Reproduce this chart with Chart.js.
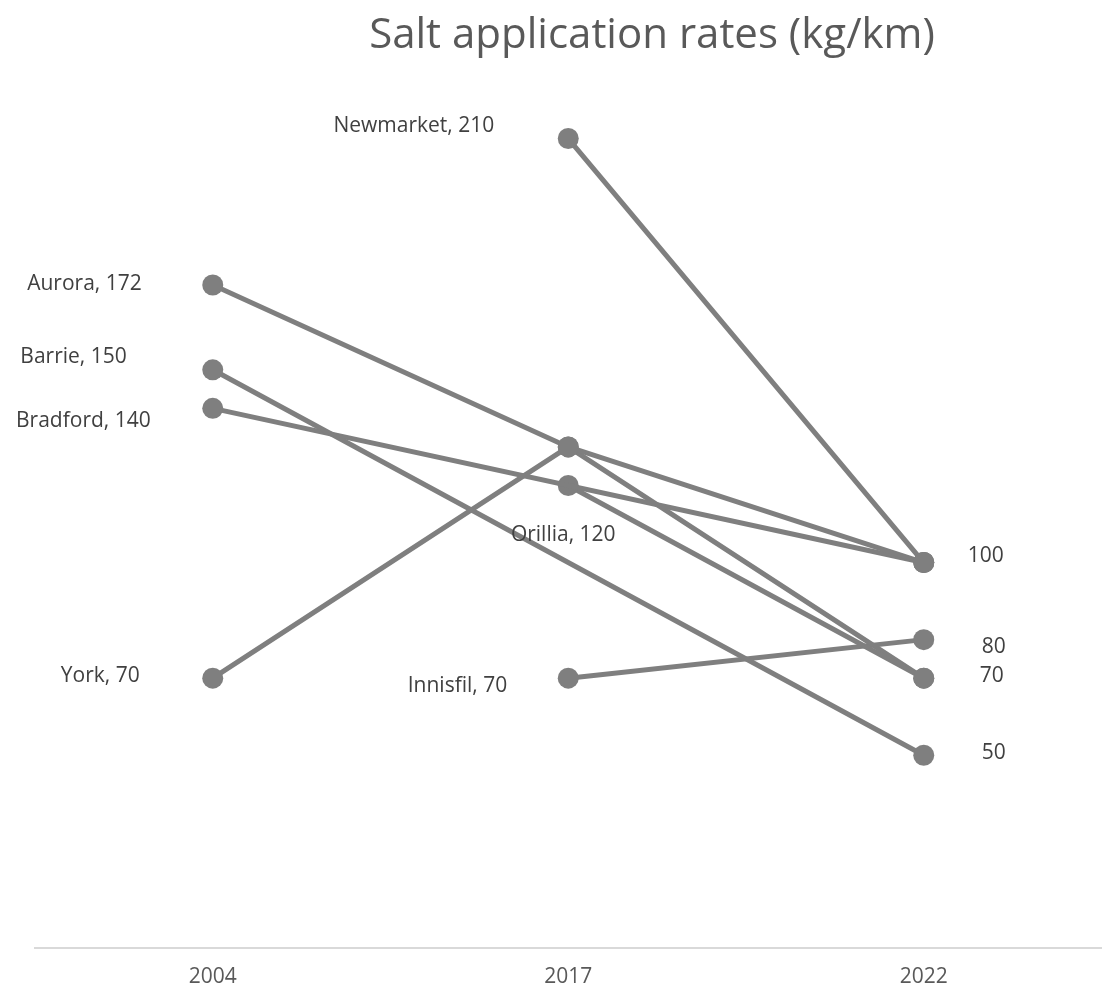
<!DOCTYPE html>
<html>
<head>
<meta charset="utf-8">
<script src="https://cdn.jsdelivr.net/npm/chart.js@4/dist/chart.umd.min.js"></script>
<style>
  html, body { margin: 0; padding: 0; background: #fff; }
  canvas { display: block; }
</style>
</head>
<body>
<canvas id="slopeChart" width="1112" height="987"></canvas>
<script>
const years = ["2004", "2017", "2022"];
const chartTitle = "Salt application rates (kg/km)";

const newmarket = [null, 210, 100];
const aurora = [172, 130, 100];
const barrie = [150, null, 50];
const bradford = [140, null, 100];
const orillia = [null, 120, 70];
const york = [70, 130, 70];
const innisfil = [null, 70, 80];

const seriesNames = ["Newmarket", "Aurora", "Barrie", "Bradford", "Orillia", "York", "Innisfil"];
const seriesValues = [newmarket, aurora, barrie, bradford, orillia, york, innisfil];

const COLORS = { line: "#7f7f7f", label: "#404040", axisText: "#595959", axisLine: "#d9d9d9", title: "#595959" };
Chart.defaults.font.family = '"Open Sans", sans-serif';

// where each data label sits relative to its point (series index, point index, offsets)
const labelSpots = [
  { s: 1, i: 0, dx: -71, dy: -1, align: "right" },
  { s: 2, i: 0, dx: -86, dy: -13, align: "right" },
  { s: 3, i: 0, dx: -62, dy: 13, align: "right" },
  { s: 5, i: 0, dx: -73, dy: -2, align: "right" },
  { s: 0, i: 1, dx: -74, dy: -13, align: "right" },
  { s: 4, i: 1, dx: -5, dy: 50, align: "center" },
  { s: 6, i: 1, dx: -61, dy: 8, align: "right" },
  { s: 0, i: 2, dx: 62, dy: -7, align: "center" },
  { s: 6, i: 2, dx: 70, dy: 7, align: "center" },
  { s: 4, i: 2, dx: 68, dy: -2, align: "center" },
  { s: 2, i: 2, dx: 70, dy: -2, align: "center" }
];

const labelPlugin = {
  id: "slopeLabels",
  afterDatasetsDraw(chart) {
    const ctx = chart.ctx;
    ctx.save();
    ctx.font = '21px "Open Sans", sans-serif';
    ctx.fillStyle = COLORS.label;
    ctx.textBaseline = "middle";
    labelSpots.forEach((spot) => {
      const point = chart.getDatasetMeta(spot.s).data[spot.i];
      const value = seriesValues[spot.s][spot.i];
      const text = spot.i < 2 ? `${seriesNames[spot.s]}, ${value}` : `${value}`;
      ctx.textAlign = spot.align;
      ctx.fillText(text, point.x + spot.dx, point.y + spot.dy);
    });
    ctx.font = '42px "Open Sans", sans-serif';
    ctx.fillStyle = COLORS.title;
    ctx.textAlign = "center";
    ctx.textBaseline = "alphabetic";
    ctx.fillText(chartTitle, 652, 48);
    ctx.restore();
  }
};

new Chart(document.getElementById("slopeChart"), {
  type: "line",
  data: {
    labels: years,
    datasets: seriesNames.map((name, index) => ({
      label: name, data: seriesValues[index], borderColor: COLORS.line, backgroundColor: COLORS.line,
      borderWidth: 5, borderCapStyle: "round", borderJoinStyle: "round", tension: 0, spanGaps: true,
      pointRadius: 10.5, pointBorderWidth: 0, pointBackgroundColor: COLORS.line, clip: false
    }))
  },
  options: {
    responsive: false, animation: false,
    layout: { padding: { left: 35, right: 4, top: 100, bottom: 0 } },
    plugins: { legend: { display: false }, title: { display: false }, tooltip: { enabled: false } },
    scales: {
      x: {
        offset: true,
        grid: { display: false, drawTicks: false },
        border: { display: true, color: COLORS.axisLine, width: 2 },
        ticks: { color: COLORS.axisText, font: { size: 21 }, padding: 16, maxRotation: 0 },
        afterFit(scale) { scale.height = 39; }
      },
      y: { display: false, min: 0, max: 220 }
    }
  },
  plugins: [labelPlugin]
});
</script>
</body>
</html>
